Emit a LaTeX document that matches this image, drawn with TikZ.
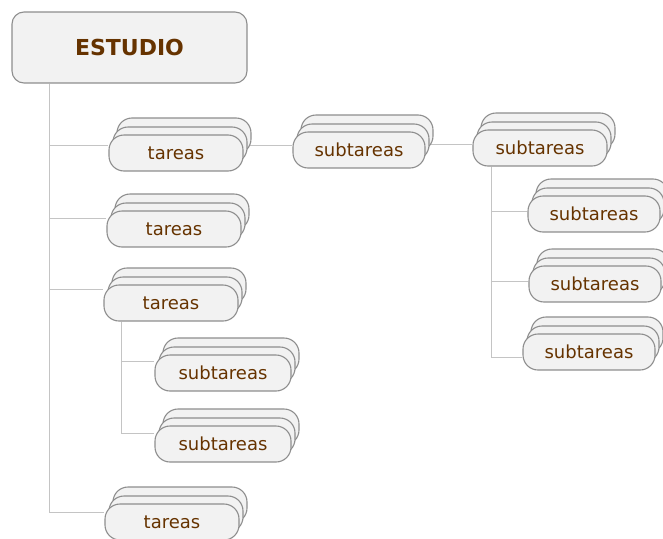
\documentclass[tikz,border=0pt]{standalone}
\usepackage{fontspec}
\setmainfont{DejaVu Sans}
\usepackage{xcolor}
\usetikzlibrary{shadows, backgrounds}

\definecolor{boxfill}{HTML}{F2F2F2}
\definecolor{boxline}{HTML}{8E8E8E}
\definecolor{linkgray}{HTML}{C4C4C4}
\definecolor{textbrown}{HTML}{663300}

\tikzset{
    stack/.style={draw=boxline, fill=boxfill, line width=1.1pt, rounded corners=15pt,
        minimum width=134pt, minimum height=36pt, text=textbrown,
        font=\fontsize{18}{20}\selectfont,
        general shadow={shadow xshift=8pt, shadow yshift=17pt, fill=boxfill, draw=boxline, line width=1.1pt},
        general shadow={shadow xshift=4pt, shadow yshift=8pt, fill=boxfill, draw=boxline, line width=1.1pt}},
    link/.style={draw=linkgray, line width=0.9pt}
}

\begin{document}
\begin{tikzpicture}[x=1pt, y=-1pt]
        \useasboundingbox (0,0) rectangle (663,538);

        % Define the branch columns
        \coordinate (busA) at (49,0);
        \coordinate (busB) at (121,0);
        \coordinate (busC) at (491,0);

        % Draw the root
        \node[draw=boxline, fill=boxfill, line width=1.1pt, rounded corners=12pt,
            minimum width=235pt, minimum height=71pt, text=textbrown,
            font=\fontsize{22}{24}\selectfont\bfseries] (estudio) at (129.5,47.5) {ESTUDIO};

        % Draw the stacked boxes
        \node[stack] (t1) at (176,153) {tareas};
        \node[stack] (t2) at (174,229) {tareas};
        \node[stack] (t3) at (171,303) {tareas};
        \node[stack] (t4) at (172,522) {tareas};
        \node[stack, minimum width=132pt] (s1) at (359,150) {subtareas};
        \node[stack] (s2) at (540,148) {subtareas};
        \node[stack, minimum width=132pt] (s3) at (594,214) {subtareas};
        \node[stack, minimum width=132pt] (s4) at (595,284) {subtareas};
        \node[stack, minimum width=132pt] (s5) at (589,352) {subtareas};
        \node[stack, minimum width=136pt] (s6) at (223,373) {subtareas};
        \node[stack, minimum width=136pt] (s7) at (223,444) {subtareas};

        % Draw the connectors behind the boxes
        \begin{scope}[on background layer]
            \draw[link] (estudio.south -| busA) |- ([yshift=8pt]t1.west);
            \draw[link] (estudio.south -| busA) |- ([yshift=11pt]t2.west);
            \draw[link] (estudio.south -| busA) |- ([yshift=14pt]t3.west);
            \draw[link] (estudio.south -| busA) |- ([yshift=10pt]t4.west);
            \draw[link] ([yshift=8pt]t1.east) -- ([yshift=8pt]t1.east -| s1.west);
            \draw[link] ([yshift=6pt]s1.east) -- ([yshift=6pt]s1.east -| s2.west);
            \draw[link] (t3.south -| busB) |- ([yshift=12pt]s6.west);
            \draw[link] (t3.south -| busB) |- ([yshift=11pt]s7.west);
            \draw[link] (s2.south -| busC) |- ([yshift=3pt]s3.west);
            \draw[link] (s2.south -| busC) |- ([yshift=3pt]s4.west);
            \draw[link] (s2.south -| busC) |- ([yshift=-5pt]s5.west);
        \end{scope}
    \end{tikzpicture}
\end{document}
